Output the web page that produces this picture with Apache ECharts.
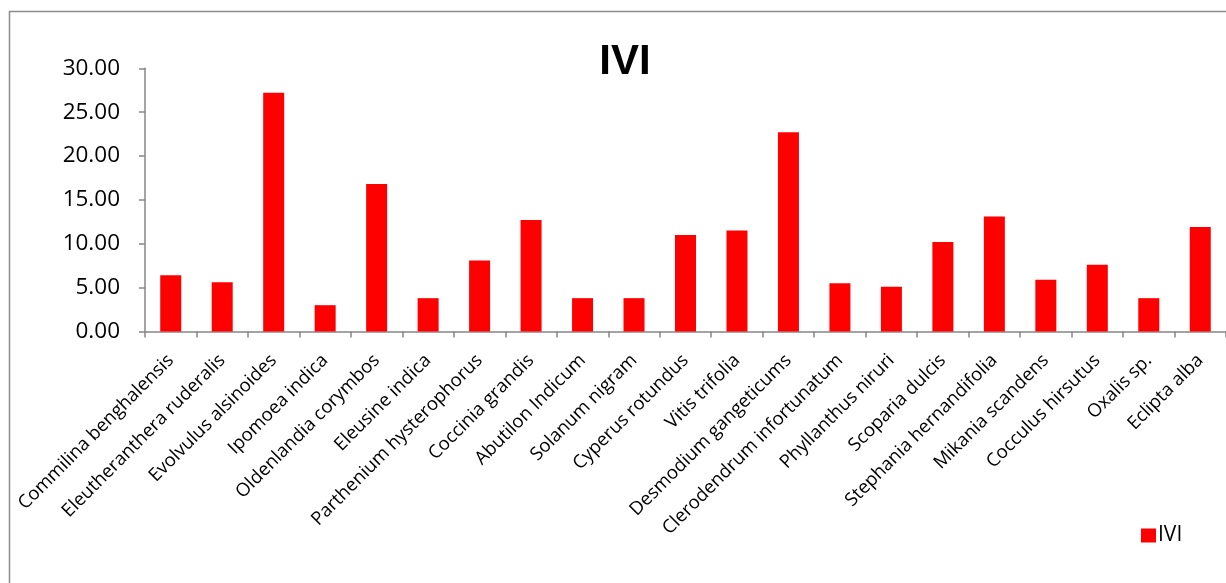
<!DOCTYPE html>
<html>
<head>
<meta charset="utf-8">
<script src="https://cdn.jsdelivr.net/npm/echarts@6/dist/echarts.min.js"></script>
<style>
html,body{margin:0;padding:0;background:#fff;}
#c{width:1226px;height:583px;}
</style>
</head>
<body>
<div id="c"></div>
<script>
const categories = [
  "Commilina benghalensis","Eleutheranthera ruderalis","Evolvulus alsinoides","Ipomoea indica",
  "Oldenlandia corymbos","Eleusine indica","Parthenium hysterophorus","Coccinia grandis",
  "Abutilon Indicum","Solanum nigram","Cyperus rotundus","Vitis trifolia",
  "Desmodium gangeticums","Clerodendrum infortunatum","Phyllanthus niruri","Scoparia dulcis",
  "Stephania hernandifolia","Mikania scandens","Cocculus hirsutus","Oxalis sp.","Eclipta alba"
];
const iviValues = [6.4,5.6,27.2,3.0,16.8,3.8,8.1,12.7,3.8,3.8,11.0,11.5,22.7,5.5,5.1,10.2,13.1,5.9,7.6,3.8,11.9];
const seriesName = "IVI";
const chartTitle = "IVI";

const chart = echarts.init(document.getElementById('c'), null, {renderer:'canvas'});
chart.setOption({
  animation:false,
  backgroundColor:'#fff',
  title:{
    text:chartTitle, left:620, top:36, textAlign:'center',
    textStyle:{fontFamily:'Liberation Sans', fontWeight:'bold', fontSize:42, color:'#000'}
  },
  graphic:[{
    type:'rect', shape:{x:9.5, y:11.5, width:1300, height:700},
    style:{fill:null, stroke:'#8c8c8c', lineWidth:1.5}, silent:true
  }],
  legend:{
    data:[seriesName], left:1136, top:520, icon:'rect', itemWidth:15, itemHeight:14, itemGap:6,
    textStyle:{fontFamily:'Open Sans', fontSize:21, color:'#000', padding:[0,0,0,-3]}
  },
  grid:{left:145, top:68.3, width:1087, height:263.2, containLabel:false},
  xAxis:{
    type:'category', data:categories,
    axisLine:{lineStyle:{color:'#868686', width:1.5}},
    axisTick:{show:true, length:6, alignWithLabel:false, lineStyle:{color:'#868686', width:1.5}},
    axisLabel:{rotate:45, interval:0, margin:26, color:'#000', fontFamily:'Open Sans', fontSize:18.5}
  },
  yAxis:{
    type:'value', min:0, max:30, interval:5,
    axisLine:{show:true, lineStyle:{color:'#868686', width:1.5}},
    axisTick:{show:true, length:6, lineStyle:{color:'#868686', width:1.5}},
    splitLine:{show:false},
    axisLabel:{margin:25, color:'#000', fontFamily:'Open Sans', fontSize:22.5, formatter:v=>v.toFixed(2)}
  },
  series:[{
    name:seriesName, type:'bar', data:iviValues, barWidth:21,
    itemStyle:{color:'#ff0000'}
  }]
});
</script>
</body>
</html>
